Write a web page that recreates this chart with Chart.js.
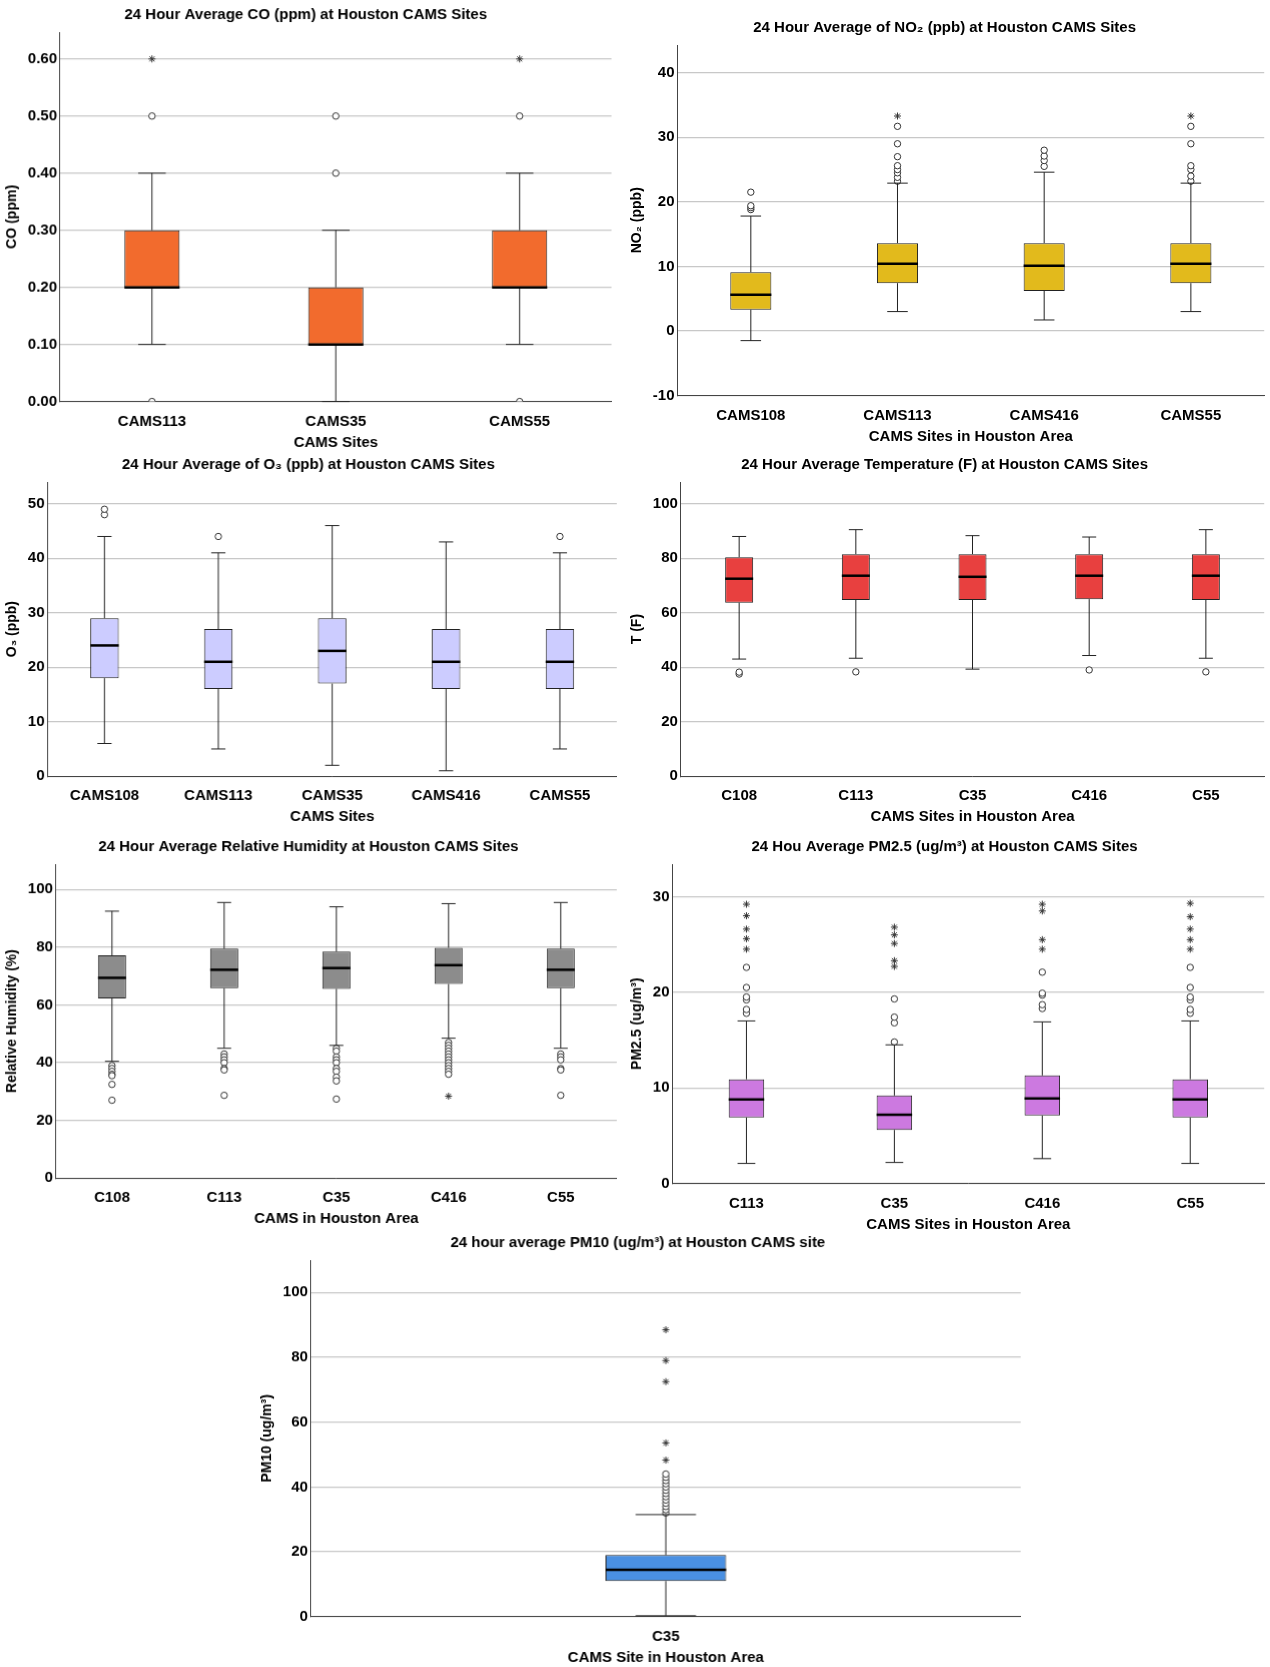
<!DOCTYPE html>
<html><head><meta charset="utf-8">
<script src="https://cdn.jsdelivr.net/npm/chart.js@4"></script>
<style>
body{margin:0;background:#fff;width:1270px;height:1667px;position:relative;overflow:hidden}
.p{position:absolute}
</style></head><body>
<script>
// ---- data: rows are [whiskerLow, q1, median, q3, whiskerHigh]
const coSites = ['CAMS113', 'CAMS35', 'CAMS55'];
const coBox = [[0.1, 0.2, 0.2, 0.3, 0.4], [0, 0.1, 0.1, 0.2, 0.3], [0.1, 0.2, 0.2, 0.3, 0.4]];
const coCircles = [[0, 0.5], [0.4, 0.5], [0, 0.5]];
const coStars = [[0.6], [], [0.6]];

const no2Sites = ['CAMS108', 'CAMS113', 'CAMS416', 'CAMS55'];
const no2Box = [[-1.5, 3.3, 5.6, 9.1, 17.8], [3, 7.4, 10.4, 13.6, 22.9], [1.7, 6.2, 10.1, 13.6, 24.6], [3, 7.4, 10.4, 13.6, 22.9]];
const no2Circles = [[18.8, 19.1, 19.4, 21.5], [23.2, 23.8, 24.5, 25, 25.6, 27, 29, 31.7], [25.5, 26.4, 27.1, 28], [23.2, 24, 25, 25.6, 29, 31.7]];
const no2Stars = [[], [33.3], [], [33.3]];

const o3Sites = ['CAMS108', 'CAMS113', 'CAMS35', 'CAMS416', 'CAMS55'];
const o3Box = [[6, 18, 24, 29, 44], [5, 16, 21, 27, 41], [2, 17, 23, 29, 46], [1, 16, 21, 27, 43], [5, 16, 21, 27, 41]];
const o3Circles = [[48, 49], [44], [], [], [44]];
const o3Stars = [[], [], [], [], []];

const tSites = ['C108', 'C113', 'C35', 'C416', 'C55'];
const tBox = [[43, 63.7, 72.5, 80.4, 88], [43.3, 64.7, 73.6, 81.5, 90.5], [39.3, 64.7, 73.2, 81.5, 88.3], [44.3, 65, 73.6, 81.5, 87.8], [43.3, 64.7, 73.6, 81.5, 90.5]];
const tCircles = [[37.5, 38.2], [38.3], [], [39], [38.3]];
const tStars = [[], [], [], [], []];

const rhSites = ['C108', 'C113', 'C35', 'C416', 'C55'];
const rhBox = [[40.5, 62.3, 69.4, 77.2, 92.5], [45, 65.8, 72.2, 79.5, 95.5], [46, 65.6, 72.8, 78.5, 94], [48.5, 67.3, 73.8, 79.8, 95.1], [45, 65.8, 72.2, 79.5, 95.5]];
const rhCircles = [[39, 38, 37, 36, 35.5, 32.5, 27], [43, 42, 41, 40, 38, 37.5, 28.7], [45, 44, 42, 41, 40, 38, 37, 35, 33.7, 27.4], [47, 46, 45, 44, 43, 42, 41, 40, 39, 38, 37, 36], [43, 42, 41, 38, 37.5, 28.7]];
const rhStars = [[], [], [], [28.4], []];

const pm25Sites = ['C113', 'C35', 'C416', 'C55'];
const pm25Box = [[2.1, 6.9, 8.8, 10.9, 17], [2.2, 5.6, 7.2, 9.2, 14.5], [2.6, 7.1, 8.9, 11.3, 16.9], [2.1, 6.9, 8.8, 10.9, 17]];
const pm25Circles = [[17.8, 18.2, 19.2, 19.5, 20.5, 22.6], [14.8, 16.8, 17.4, 19.3], [18.3, 18.7, 19.7, 19.9, 22.1], [17.8, 18.2, 19.2, 19.5, 20.5, 22.6]];
const pm25Stars = [[24.5, 25.6, 26.6, 28, 29.2], [22.7, 23.3, 25.1, 26, 26.8], [24.5, 25.5, 28.5, 29.2], [24.5, 25.5, 26.6, 27.9, 29.3]];

const pm10Sites = ['C35'];
const pm10Box = [[0.3, 11, 14.5, 19, 31.5]];
const pm10Circles = [[32, 33, 34, 35, 36, 37, 38, 39, 40, 41, 42, 43, 44]];
const pm10Stars = [[48.3, 53.6, 72.5, 79, 88.5]];

const S = 1.063;

// draws whiskers, caps and median on top of the floating bars
const boxExtras = {
    id: 'boxExtras',
    afterDatasetsDraw(chart) {
        const rows = chart.options.plugins.boxExtras.rows;
        const meta = chart.getDatasetMeta(0);
        const y = chart.scales.y, ctx = chart.ctx;
        ctx.save();
        rows.forEach((r, i) => {
            const bar = meta.data[i];
            const x = bar.x, w = bar.width;
            ctx.strokeStyle = '#222';
            ctx.lineWidth = 1;
            ctx.beginPath();
            ctx.moveTo(x, y.getPixelForValue(r[0])); ctx.lineTo(x, y.getPixelForValue(r[1]));
            ctx.moveTo(x, y.getPixelForValue(r[3])); ctx.lineTo(x, y.getPixelForValue(r[4]));
            ctx.moveTo(x - w / 4, y.getPixelForValue(r[0])); ctx.lineTo(x + w / 4, y.getPixelForValue(r[0]));
            ctx.moveTo(x - w / 4, y.getPixelForValue(r[4])); ctx.lineTo(x + w / 4, y.getPixelForValue(r[4]));
            ctx.stroke();
            ctx.lineWidth = 2.5;
            ctx.strokeStyle = '#000';
            ctx.beginPath();
            ctx.moveTo(x - w / 2, y.getPixelForValue(r[2])); ctx.lineTo(x + w / 2, y.getPixelForValue(r[2]));
            ctx.stroke();
        });
        ctx.restore();
    }
};

function points(sites, lists) {
    const out = [];
    lists.forEach((vals, i) => vals.forEach(v => out.push({ x: sites[i], y: v })));
    return out;
}

function makePanel(cfg) {
    const div = document.createElement('div');
    div.className = 'p';
    div.style.left = cfg.pos[0] * S + 'px';
    div.style.top = cfg.pos[1] * S + 'px';
    div.style.width = cfg.pos[2] * S + 'px';
    div.style.height = cfg.pos[3] * S + 'px';
    const canvas = document.createElement('canvas');
    div.appendChild(canvas);
    document.body.appendChild(div);
    const step = cfg.step;
    const onStep = v => Math.abs(v / step - Math.round(v / step)) < 1e-6;
    const font = { family: 'Liberation Sans, Arial', size: 15, weight: 'bold' };
    new Chart(canvas, {
        type: 'bar',
        data: {
            labels: cfg.sites,
            datasets: [
                {
                    data: cfg.box.map(r => [r[1], r[3]]),
                    backgroundColor: cfg.color,
                    borderColor: '#222',
                    borderWidth: 1,
                    borderSkipped: false,
                    categoryPercentage: 1,
                    barPercentage: cfg.barPct,
                    order: 2
                },
                {
                    type: 'line', showLine: false,
                    data: points(cfg.sites, cfg.circles),
                    pointStyle: 'circle', pointRadius: 3.2,
                    pointBackgroundColor: '#fff', pointBorderColor: '#333', pointBorderWidth: 1,
                    order: 1
                },
                {
                    type: 'line', showLine: false,
                    data: points(cfg.sites, cfg.stars),
                    pointStyle: 'star', pointRadius: 3.5,
                    pointBorderColor: '#333', pointBorderWidth: 1,
                    order: 1
                }
            ]
        },
        options: {
            responsive: true, maintainAspectRatio: false, animation: false,
            layout: { padding: { right: 6 } },
            plugins: {
                legend: { display: false }, tooltip: { enabled: false },
                title: { display: true, text: cfg.title, color: '#000', font: font, padding: { top: 4, bottom: 8 } },
                boxExtras: { rows: cfg.box }
            },
            scales: {
                x: {
                    grid: { display: false },
                    border: { color: '#444' },
                    ticks: { color: '#000', font: font },
                    title: { display: true, text: cfg.xTitle, color: '#000', font: font, padding: 0 }
                },
                y: {
                    min: cfg.min, max: cfg.max,
                    ticks: {
                        stepSize: step, color: '#000', font: font,
                        callback: v => onStep(v) ? (cfg.dec ? v.toFixed(cfg.dec) : Math.round(v)) : ''
                    },
                    grid: { color: c => onStep(c.tick.value) ? '#c8c8c8' : 'rgba(0,0,0,0)', drawTicks: false, lineWidth: 1.3 },
                    border: { color: '#444' },
                    title: { display: true, text: cfg.yTitle, color: '#000', font: { ...font, size: 14 } }
                }
            }
        },
        plugins: [boxExtras]
    });
}

makePanel({ pos: [0, 2, 580, 422], sites: coSites, box: coBox, circles: coCircles, stars: coStars, color: '#F26B2D', barPct: 0.3,
    min: 0, max: 0.647, step: 0.1, dec: 2, title: '24 Hour Average CO (ppm) at Houston CAMS Sites', xTitle: 'CAMS Sites', yTitle: 'CO (ppm)' });
makePanel({ pos: [588, 14, 607, 405], sites: no2Sites, box: no2Box, circles: no2Circles, stars: no2Stars, color: '#E2BA1C', barPct: 0.28,
    min: -10, max: 44.3, step: 10, title: '24 Hour Average of NO₂ (ppb) at Houston CAMS Sites', xTitle: 'CAMS Sites in Houston Area', yTitle: 'NO₂ (ppb)' });
makePanel({ pos: [0, 425, 585, 352], sites: o3Sites, box: o3Box, circles: o3Circles, stars: o3Stars, color: '#CCCCFF', barPct: 0.25,
    min: 0, max: 54, step: 10, title: '24 Hour Average of O₃ (ppb) at Houston CAMS Sites', xTitle: 'CAMS Sites', yTitle: 'O₃ (ppb)' });
makePanel({ pos: [588, 425, 607, 352], sites: tSites, box: tBox, circles: tCircles, stars: tStars, color: '#E8403F', barPct: 0.24,
    min: 0, max: 108, step: 20, title: '24 Hour Average Temperature (F) at Houston CAMS Sites', xTitle: 'CAMS Sites in Houston Area', yTitle: 'T (F)' });
makePanel({ pos: [0, 785, 585, 370], sites: rhSites, box: rhBox, circles: rhCircles, stars: rhStars, color: '#8C8C8C', barPct: 0.25,
    min: 0, max: 108.8, step: 20, title: '24 Hour Average Relative Humidity at Houston CAMS Sites', xTitle: 'CAMS in Houston Area', yTitle: 'Relative Humidity (%)' });
makePanel({ pos: [588, 785, 607, 375], sites: pm25Sites, box: pm25Box, circles: pm25Circles, stars: pm25Stars, color: '#CC79E0', barPct: 0.24,
    min: 0, max: 33.4, step: 10, title: '24 Hou Average PM2.5 (ug/m³) at Houston CAMS Sites', xTitle: 'CAMS Sites in Houston Area', yTitle: 'PM2.5 (ug/m³)' });
makePanel({ pos: [240, 1157, 725, 410], sites: pm10Sites, box: pm10Box, circles: pm10Circles, stars: pm10Stars, color: '#4A90E2', barPct: 0.17,
    min: 0, max: 110, step: 20, title: '24 hour average PM10 (ug/m³) at Houston CAMS site', xTitle: 'CAMS Site in Houston Area', yTitle: 'PM10 (ug/m³)' });
</script>
</body></html>
